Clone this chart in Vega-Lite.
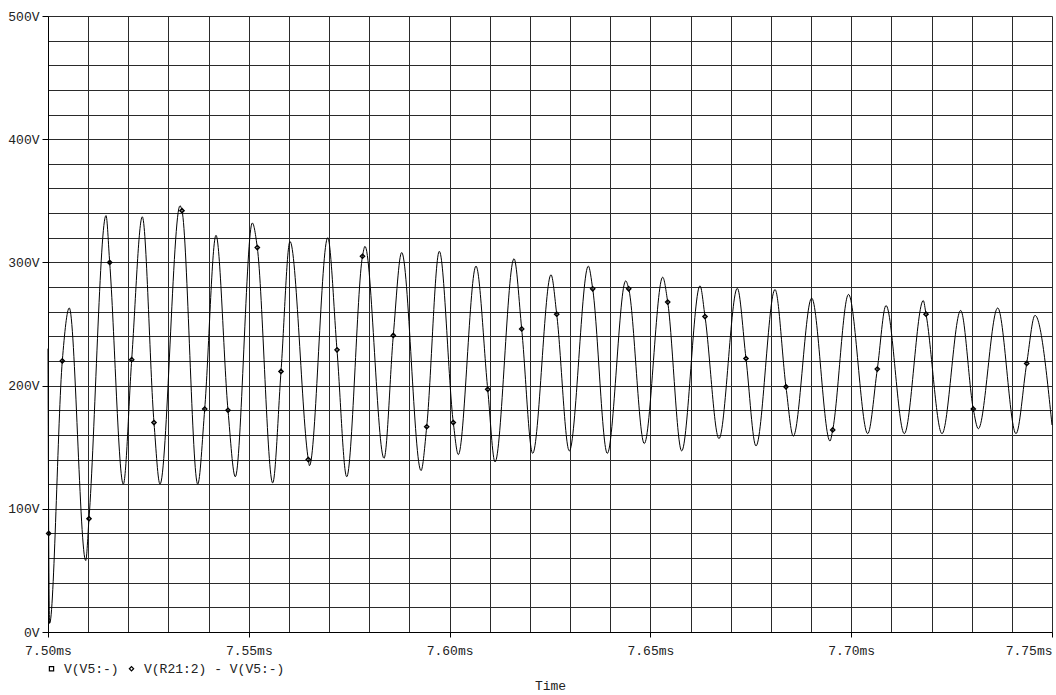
{
  "$schema": "https://vega.github.io/schema/vega-lite/v6.json",
  "width": 1004,
  "height": 616,
  "autosize": {"type": "none"},
  "padding": {"left": 48, "top": 16, "right": 4, "bottom": 63},
  "background": "white",
  "config": {"view": {"stroke": null}, "font": "Liberation Mono"},
  "data": {"values": [
    {"t": 7500.00, "v": 230, "m": 0, "s": "V(R21:2) - V(V5:-)"},
    {"t": 7500.17, "v": 80, "m": 1, "s": "V(R21:2) - V(V5:-)"},
    {"t": 7500.40, "v": 7, "m": 0, "s": "V(R21:2) - V(V5:-)"},
    {"t": 7503.56, "v": 220, "m": 1, "s": "V(R21:2) - V(V5:-)"},
    {"t": 7505.30, "v": 263, "m": 0, "s": "V(R21:2) - V(V5:-)"},
    {"t": 7509.39, "v": 58, "m": 0, "s": "V(R21:2) - V(V5:-)"},
    {"t": 7510.21, "v": 92, "m": 1, "s": "V(R21:2) - V(V5:-)"},
    {"t": 7514.44, "v": 338, "m": 0, "s": "V(R21:2) - V(V5:-)"},
    {"t": 7515.36, "v": 300, "m": 1, "s": "V(R21:2) - V(V5:-)"},
    {"t": 7518.75, "v": 120, "m": 0, "s": "V(R21:2) - V(V5:-)"},
    {"t": 7520.84, "v": 221, "m": 1, "s": "V(R21:2) - V(V5:-)"},
    {"t": 7523.48, "v": 337, "m": 0, "s": "V(R21:2) - V(V5:-)"},
    {"t": 7526.39, "v": 170, "m": 1, "s": "V(R21:2) - V(V5:-)"},
    {"t": 7527.89, "v": 120, "m": 0, "s": "V(R21:2) - V(V5:-)"},
    {"t": 7532.87, "v": 346, "m": 0, "s": "V(R21:2) - V(V5:-)"},
    {"t": 7533.37, "v": 342, "m": 1, "s": "V(R21:2) - V(V5:-)"},
    {"t": 7537.28, "v": 120, "m": 0, "s": "V(R21:2) - V(V5:-)"},
    {"t": 7539.02, "v": 181, "m": 1, "s": "V(R21:2) - V(V5:-)"},
    {"t": 7541.83, "v": 322, "m": 0, "s": "V(R21:2) - V(V5:-)"},
    {"t": 7544.82, "v": 180, "m": 1, "s": "V(R21:2) - V(V5:-)"},
    {"t": 7546.64, "v": 126, "m": 0, "s": "V(R21:2) - V(V5:-)"},
    {"t": 7550.87, "v": 332, "m": 0, "s": "V(R21:2) - V(V5:-)"},
    {"t": 7552.12, "v": 312, "m": 1, "s": "V(R21:2) - V(V5:-)"},
    {"t": 7555.95, "v": 121, "m": 0, "s": "V(R21:2) - V(V5:-)"},
    {"t": 7558.02, "v": 211.5, "m": 1, "s": "V(R21:2) - V(V5:-)"},
    {"t": 7560.26, "v": 317, "m": 0, "s": "V(R21:2) - V(V5:-)"},
    {"t": 7564.82, "v": 140, "m": 1, "s": "V(R21:2) - V(V5:-)"},
    {"t": 7565.10, "v": 135, "m": 0, "s": "V(R21:2) - V(V5:-)"},
    {"t": 7569.65, "v": 320, "m": 0, "s": "V(R21:2) - V(V5:-)"},
    {"t": 7571.96, "v": 229, "m": 1, "s": "V(R21:2) - V(V5:-)"},
    {"t": 7574.38, "v": 126, "m": 0, "s": "V(R21:2) - V(V5:-)"},
    {"t": 7578.31, "v": 305, "m": 1, "s": "V(R21:2) - V(V5:-)"},
    {"t": 7578.93, "v": 313, "m": 0, "s": "V(R21:2) - V(V5:-)"},
    {"t": 7583.67, "v": 141, "m": 0, "s": "V(R21:2) - V(V5:-)"},
    {"t": 7585.98, "v": 240.7, "m": 1, "s": "V(R21:2) - V(V5:-)"},
    {"t": 7588.07, "v": 308, "m": 0, "s": "V(R21:2) - V(V5:-)"},
    {"t": 7592.88, "v": 131, "m": 0, "s": "V(R21:2) - V(V5:-)"},
    {"t": 7594.30, "v": 166.6, "m": 1, "s": "V(R21:2) - V(V5:-)"},
    {"t": 7597.44, "v": 309, "m": 0, "s": "V(R21:2) - V(V5:-)"},
    {"t": 7600.92, "v": 170, "m": 1, "s": "V(R21:2) - V(V5:-)"},
    {"t": 7602.17, "v": 144, "m": 0, "s": "V(R21:2) - V(V5:-)"},
    {"t": 7606.57, "v": 297, "m": 0, "s": "V(R21:2) - V(V5:-)"},
    {"t": 7609.49, "v": 197, "m": 1, "s": "V(R21:2) - V(V5:-)"},
    {"t": 7611.31, "v": 138, "m": 0, "s": "V(R21:2) - V(V5:-)"},
    {"t": 7616.04, "v": 303, "m": 0, "s": "V(R21:2) - V(V5:-)"},
    {"t": 7617.95, "v": 246, "m": 1, "s": "V(R21:2) - V(V5:-)"},
    {"t": 7620.69, "v": 145, "m": 0, "s": "V(R21:2) - V(V5:-)"},
    {"t": 7625.25, "v": 290, "m": 0, "s": "V(R21:2) - V(V5:-)"},
    {"t": 7626.67, "v": 258, "m": 1, "s": "V(R21:2) - V(V5:-)"},
    {"t": 7629.81, "v": 147, "m": 0, "s": "V(R21:2) - V(V5:-)"},
    {"t": 7634.54, "v": 297, "m": 0, "s": "V(R21:2) - V(V5:-)"},
    {"t": 7635.63, "v": 278.6, "m": 1, "s": "V(R21:2) - V(V5:-)"},
    {"t": 7639.27, "v": 145, "m": 0, "s": "V(R21:2) - V(V5:-)"},
    {"t": 7643.85, "v": 285, "m": 0, "s": "V(R21:2) - V(V5:-)"},
    {"t": 7644.60, "v": 278.6, "m": 1, "s": "V(R21:2) - V(V5:-)"},
    {"t": 7648.48, "v": 153, "m": 0, "s": "V(R21:2) - V(V5:-)"},
    {"t": 7653.06, "v": 288, "m": 0, "s": "V(R21:2) - V(V5:-)"},
    {"t": 7654.31, "v": 267.8, "m": 1, "s": "V(R21:2) - V(V5:-)"},
    {"t": 7657.79, "v": 147, "m": 0, "s": "V(R21:2) - V(V5:-)"},
    {"t": 7662.35, "v": 281, "m": 0, "s": "V(R21:2) - V(V5:-)"},
    {"t": 7663.60, "v": 256, "m": 1, "s": "V(R21:2) - V(V5:-)"},
    {"t": 7667.08, "v": 157, "m": 0, "s": "V(R21:2) - V(V5:-)"},
    {"t": 7671.64, "v": 279, "m": 0, "s": "V(R21:2) - V(V5:-)"},
    {"t": 7673.80, "v": 222, "m": 1, "s": "V(R21:2) - V(V5:-)"},
    {"t": 7676.29, "v": 151, "m": 0, "s": "V(R21:2) - V(V5:-)"},
    {"t": 7681.03, "v": 278, "m": 0, "s": "V(R21:2) - V(V5:-)"},
    {"t": 7683.76, "v": 199, "m": 1, "s": "V(R21:2) - V(V5:-)"},
    {"t": 7685.58, "v": 159, "m": 0, "s": "V(R21:2) - V(V5:-)"},
    {"t": 7690.16, "v": 271, "m": 0, "s": "V(R21:2) - V(V5:-)"},
    {"t": 7694.72, "v": 155, "m": 0, "s": "V(R21:2) - V(V5:-)"},
    {"t": 7695.39, "v": 164, "m": 1, "s": "V(R21:2) - V(V5:-)"},
    {"t": 7699.33, "v": 274, "m": 0, "s": "V(R21:2) - V(V5:-)"},
    {"t": 7704.11, "v": 161, "m": 0, "s": "V(R21:2) - V(V5:-)"},
    {"t": 7706.50, "v": 213.4, "m": 1, "s": "V(R21:2) - V(V5:-)"},
    {"t": 7708.67, "v": 265, "m": 0, "s": "V(R21:2) - V(V5:-)"},
    {"t": 7713.22, "v": 161, "m": 0, "s": "V(R21:2) - V(V5:-)"},
    {"t": 7717.95, "v": 269, "m": 0, "s": "V(R21:2) - V(V5:-)"},
    {"t": 7718.63, "v": 258, "m": 1, "s": "V(R21:2) - V(V5:-)"},
    {"t": 7722.61, "v": 161, "m": 0, "s": "V(R21:2) - V(V5:-)"},
    {"t": 7727.26, "v": 261, "m": 0, "s": "V(R21:2) - V(V5:-)"},
    {"t": 7730.40, "v": 181, "m": 1, "s": "V(R21:2) - V(V5:-)"},
    {"t": 7731.65, "v": 165, "m": 0, "s": "V(R21:2) - V(V5:-)"},
    {"t": 7736.48, "v": 263, "m": 0, "s": "V(R21:2) - V(V5:-)"},
    {"t": 7741.04, "v": 161, "m": 0, "s": "V(R21:2) - V(V5:-)"},
    {"t": 7743.70, "v": 218, "m": 1, "s": "V(R21:2) - V(V5:-)"},
    {"t": 7745.77, "v": 257, "m": 0, "s": "V(R21:2) - V(V5:-)"},
    {"t": 7750.00, "v": 168, "m": 0, "s": "V(R21:2) - V(V5:-)"}
  ]},
  "encoding": {
    "x": {
      "field": "t", "type": "quantitative",
      "scale": {"domain": [7500, 7750], "nice": false, "zero": false},
      "axis": {
        "values": [7500, 7510, 7520, 7530, 7540, 7550, 7560, 7570, 7580, 7590, 7600, 7610, 7620, 7630, 7640, 7650, 7660, 7670, 7680, 7690, 7700, 7710, 7720, 7730, 7740, 7750],
        "title": "Time",
        "grid": true, "gridColor": "#2a2a2a", "gridWidth": 1, "gridOpacity": 1,
        "domainColor": "black", "domainWidth": 1,
        "tickColor": "black", "tickSize": 5,
        "tickOpacity": {"condition": {"test": "datum.value % 50 === 0", "value": 1}, "value": 0},
        "labelExpr": "datum.value % 50 === 0 ? format(datum.value / 1000, '.2f') + 'ms' : ''",
        "labelAlign": {"condition": {"test": "datum.value === 7750", "value": "right"}, "value": "center"},
        "labelOverlap": false, "labelFlush": false,
        "labelFont": "Liberation Mono", "labelFontSize": 13, "labelColor": "#222", "labelPadding": 7,
        "titleFont": "Liberation Mono", "titleFontSize": 13, "titleFontWeight": "normal", "titleColor": "#222", "titlePadding": 22
      }
    },
    "y": {
      "field": "v", "type": "quantitative",
      "scale": {"domain": [0, 500], "nice": false, "zero": true},
      "axis": {
        "values": [0, 20, 40, 60, 80, 100, 120, 140, 160, 180, 200, 220, 240, 260, 280, 300, 320, 340, 360, 380, 400, 420, 440, 460, 480, 500],
        "title": null,
        "grid": true, "gridColor": "#2a2a2a", "gridWidth": 1, "gridOpacity": 1,
        "domainColor": "black", "domainWidth": 1,
        "tickColor": "black", "tickSize": 6,
        "tickOpacity": {"condition": {"test": "datum.value % 100 === 0", "value": 1}, "value": 0},
        "labelExpr": "datum.value % 100 === 0 ? datum.value + 'V' : ''",
        "labelOverlap": false, "labelFlush": false,
        "labelFont": "Liberation Mono", "labelFontSize": 13, "labelColor": "#222", "labelPadding": 3
      }
    }
  },
  "layer": [
    {
      "mark": {"type": "line", "interpolate": "monotone", "color": "black", "strokeWidth": 1}
    },
    {
      "transform": [{"filter": "datum.m === 1"}],
      "mark": {"type": "point", "filled": false, "color": "black", "strokeWidth": 1.4, "size": 18, "opacity": 1},
      "encoding": {
        "shape": {
          "field": "s", "type": "nominal",
          "scale": {"domain": ["V(V5:-)", "V(R21:2) - V(V5:-)"], "range": ["square", "diamond"]},
          "legend": {
            "title": null, "orient": "none", "legendX": -3, "legendY": 646, "direction": "horizontal",
            "padding": 0, "symbolSize": 18, "symbolStrokeColor": "black", "symbolStrokeWidth": 1.2, "symbolFillColor": "white",
            "labelFont": "Liberation Mono", "labelFontSize": 13, "labelColor": "#222", "labelOffset": 6, "columnPadding": 6
          }
        }
      }
    }
  ]
}
